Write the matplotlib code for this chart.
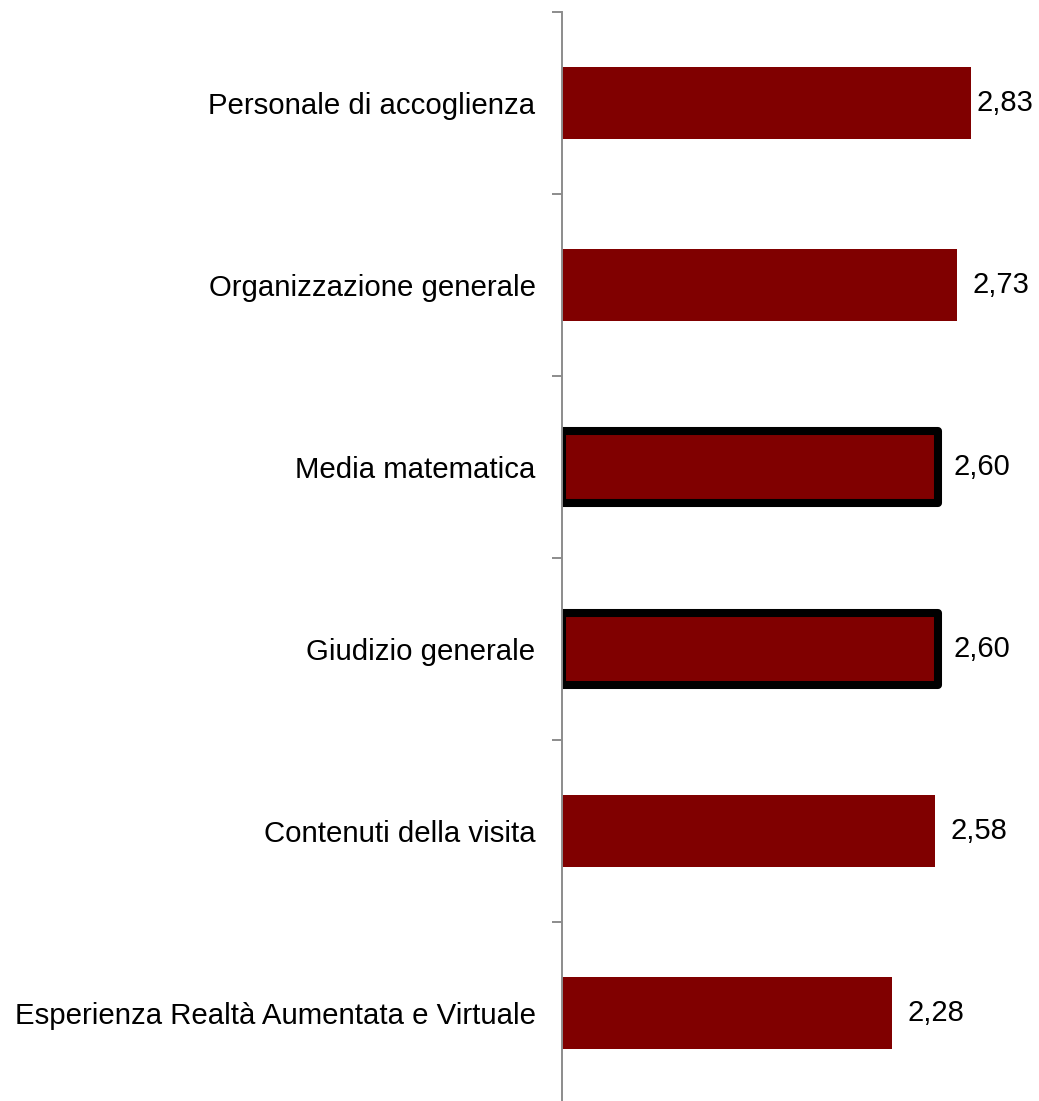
import numpy as np
import matplotlib.pyplot as plt

plt.rcParams['font.family'] = ['Liberation Sans', 'DejaVu Sans']

# Punteggi medi per aspetto della visita
categories = ['Personale di accoglienza', 'Organizzazione generale', 'Media matematica',
              'Giudizio generale', 'Contenuti della visita',
              'Esperienza Realtà Aumentata e Virtuale']
values = [2.83, 2.73, 2.60, 2.60, 2.58, 2.28]
highlighted = [False, False, True, True, False, False]

fig = plt.figure(figsize=(10.39, 11.01), dpi=100)
ax = fig.add_axes([562 / 1039, -3 / 1101, 1 - 562 / 1039, 1092 / 1101])

y = np.arange(len(categories))
bars = ax.barh(y, values, height=0.4, color='#800000')
for bar, hl in zip(bars, highlighted):
    if hl:
        bar.set_edgecolor('black')
        bar.set_linewidth(5.8)
        bar.set_joinstyle('round')

# etichette valori (virgola decimale)
for i, v in enumerate(values):
    off = 5 if i == 0 else 16
    ax.annotate(f'{v:.2f}'.replace('.', ','), (v, i), xytext=(off, 0),
                textcoords='offset pixels', va='center', ha='left', fontsize=21)

ax.set_xlim(0, 3.30)
ax.set_ylim(len(categories) - 0.5, -0.5)

# tacche ai confini tra categorie, nomi al centro
ax.set_yticks(np.arange(len(categories) + 1) - 0.5)
ax.set_yticklabels([])
ax.set_yticks(y, minor=True)
ax.set_yticklabels(categories, minor=True, fontsize=21.2)
ax.tick_params(axis='y', which='major', length=7.2, width=1.4, color='#8c8c8c')
ax.tick_params(axis='y', which='minor', length=0, pad=19)

ax.set_xticks([])
for s in ['top', 'right', 'bottom']:
    ax.spines[s].set_visible(False)
ax.spines['left'].set_color('#8c8c8c')
ax.spines['left'].set_linewidth(1.4)

fig.savefig('out.png', dpi=100)
